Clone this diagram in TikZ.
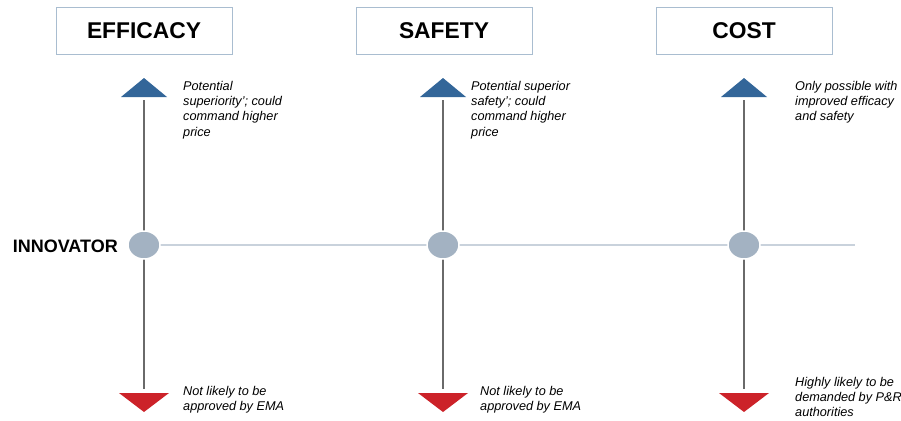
\documentclass[tikz,border=0pt]{standalone}
\usepackage{fontspec}
\setmainfont{Liberation Sans}
\usetikzlibrary{shapes.geometric}
\begin{document}
\begin{tikzpicture}[x=1pt,y=-1pt,
  titlebox/.style={draw=boxcol,line width=0.8pt,minimum width=176pt,minimum height=47pt,inner sep=0pt,font=\fontsize{22.8}{26}\selectfont\bfseries},
  note/.style={anchor=north west,align=left,inner sep=0pt,font=\fontsize{12.7}{15.2}\selectfont\itshape},
  vline/.style={draw=linecol,line width=1.5pt},
  hline/.style={draw=hcol,line width=1.2pt},
  dot/.style={ellipse,fill=dotcol,draw=white,line width=1.5pt,minimum width=32pt,minimum height=28pt,inner sep=0pt},
  uptri/.style={fill=upcol},
  downtri/.style={fill=downcol}]
\definecolor{boxcol}{HTML}{A9BDD0}
\definecolor{linecol}{HTML}{6A6A6A}
\definecolor{hcol}{HTML}{C9D2DC}
\definecolor{dotcol}{HTML}{A3B2C2}
\definecolor{upcol}{HTML}{336699}
\definecolor{downcol}{HTML}{CC2229}
\useasboundingbox (0,0) rectangle (901,420);

\node[titlebox] (teff) at (144,30.5) {EFFICACY};
\node[titlebox] (tsaf) at (444,30.5) {SAFETY};
\node[titlebox] (tcost) at (744,30.5) {COST};

\foreach \n/\x in {eff/144,saf/443,cost/744}{
  \coordinate (top\n) at (\x,100);
  \coordinate (bot\n) at (\x,389);
  \fill[uptri] (\x-23,97) -- (\x,78) -- (\x+23,97) -- cycle;
  \fill[downtri] (\x-25,393) -- (\x,412) -- (\x+25,393) -- cycle;
}
\coordinate (hend) at (855,245);
\draw[hline] (144,245) -- (hend);
\foreach \n in {eff,saf,cost}{
  \draw[vline] (top\n) -- (bot\n);
}
\node[dot] (deff) at (144,245) {};
\node[dot] (dsaf) at (443,245) {};
\node[dot] (dcost) at (744,245) {};

\node[anchor=east,inner sep=0pt,font=\fontsize{18}{21}\selectfont\bfseries] (innov) at (118,246) {INNOVATOR};

\node[note] (neffu) at (183,81) {Potential\\superiority’; could\\command higher\\price};
\node[note] (nsafu) at (471,81) {Potential superior\\safety’; could\\command higher\\price};
\node[note] (ncostu) at (795,81) {Only possible with\\improved efficacy\\and safety};
\node[note] (neffd) at (183,386) {Not likely to be\\approved by EMA};
\node[note] (nsafd) at (480,386) {Not likely to be\\approved by EMA};
\node[note] (ncostd) at (795,377) {Highly likely to be\\demanded by P\&R\\authorities};
\end{tikzpicture}
\end{document}
